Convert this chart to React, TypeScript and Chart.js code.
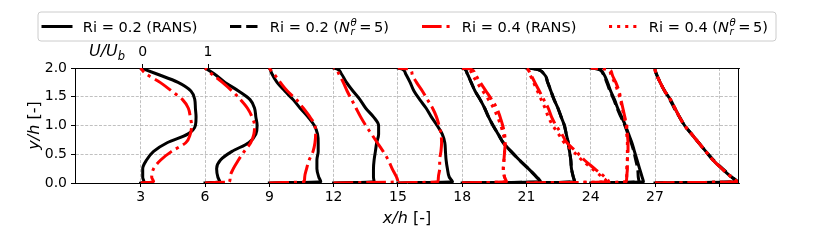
import React, { useEffect, useRef } from 'react';
import { Chart, registerables } from 'chart.js';

Chart.register(...registerables);

// ---------------- data ----------------
// wall-normal positions y/h at which the profiles are sampled
const Y_LEVELS = [0, 0.02, 0.1, 0.25, 0.4, 0.55, 0.7, 0.85, 1.0, 1.15, 1.3, 1.45, 1.6, 1.75, 1.9, 1.98, 2.0];
// streamwise stations x/h
const STATIONS = [3, 6, 9, 12, 15, 18, 21, 24, 27];
const STATIONS_N5 = [18, 21, 24, 27];
// 1 U/Ub corresponds to 3 x/h on the plot
const U_SCALE = 3;

// U/Ub profiles, one row per station, one value per Y_LEVELS entry
const U_RI02_RANS = [
  [0, 0.05, 0.03, 0.03, 0.09, 0.2, 0.41, 0.73, 0.85, 0.86, 0.85, 0.84, 0.78, 0.58, 0.24, 0.05, 0],
  [0, 0.23, 0.2, 0.18, 0.24, 0.42, 0.68, 0.79, 0.81, 0.79, 0.77, 0.7, 0.52, 0.31, 0.14, 0.03, 0],
  [0, 0.8, 0.77, 0.74, 0.74, 0.76, 0.76, 0.75, 0.7, 0.6, 0.48, 0.37, 0.24, 0.12, 0.04, 0.01, 0],
  [0, 0.63, 0.62, 0.62, 0.63, 0.65, 0.67, 0.7, 0.7, 0.62, 0.5, 0.41, 0.3, 0.2, 0.12, 0.06, 0],
  [0, 0.85, 0.8, 0.77, 0.75, 0.74, 0.73, 0.69, 0.61, 0.52, 0.44, 0.34, 0.25, 0.19, 0.12, 0.07, 0],
  [0, 1.22, 1.16, 1.03, 0.89, 0.76, 0.64, 0.56, 0.48, 0.41, 0.35, 0.28, 0.2, 0.14, 0.08, 0.04, 0],
  [0, 0.75, 0.73, 0.7, 0.69, 0.67, 0.65, 0.62, 0.59, 0.54, 0.49, 0.43, 0.38, 0.33, 0.27, 0.14, 0],
  [0, 0.82, 0.8, 0.76, 0.72, 0.68, 0.64, 0.59, 0.54, 0.48, 0.42, 0.37, 0.31, 0.26, 0.2, 0.12, 0],
  [0, 1.27, 1.19, 1.04, 0.9, 0.79, 0.68, 0.57, 0.46, 0.38, 0.31, 0.24, 0.15, 0.08, 0.02, 0.0, 0],
];
const U_RI04_RANS = [
  [0, 0.2, 0.17, 0.2, 0.31, 0.48, 0.7, 0.77, 0.79, 0.77, 0.74, 0.65, 0.48, 0.3, 0.08, 0.01, 0],
  [0, 0.38, 0.39, 0.44, 0.52, 0.61, 0.71, 0.76, 0.77, 0.73, 0.66, 0.55, 0.42, 0.27, 0.1, 0.02, 0],
  [0, 0.54, 0.55, 0.58, 0.62, 0.68, 0.71, 0.72, 0.71, 0.63, 0.53, 0.42, 0.28, 0.17, 0.07, 0.01, 0],
  [0, 1.0, 0.98, 0.91, 0.85, 0.77, 0.68, 0.59, 0.5, 0.42, 0.35, 0.28, 0.21, 0.15, 0.08, 0.04, 0],
  [0, 0.62, 0.63, 0.65, 0.65, 0.67, 0.68, 0.67, 0.64, 0.6, 0.54, 0.46, 0.38, 0.29, 0.22, 0.18, 0],
  [0, 0.69, 0.66, 0.64, 0.65, 0.66, 0.67, 0.66, 0.63, 0.59, 0.54, 0.46, 0.37, 0.28, 0.2, 0.13, 0],
  [0, 1.28, 1.22, 1.06, 0.9, 0.77, 0.63, 0.55, 0.46, 0.39, 0.34, 0.27, 0.2, 0.13, 0.06, 0.02, 0],
  [0, 0.55, 0.56, 0.57, 0.57, 0.58, 0.58, 0.57, 0.56, 0.53, 0.5, 0.47, 0.44, 0.39, 0.33, 0.27, 0],
  [0, 1.27, 1.19, 1.04, 0.9, 0.79, 0.68, 0.57, 0.46, 0.38, 0.31, 0.24, 0.15, 0.08, 0.02, 0.0, 0],
];
// N_r^theta = 5 results (stations in STATIONS_N5)
const U_RI02_N5 = [
  [0, 1.22, 1.16, 1.03, 0.89, 0.76, 0.64, 0.56, 0.48, 0.41, 0.35, 0.28, 0.2, 0.14, 0.08, 0.04, 0],
  [0, 0.75, 0.73, 0.7, 0.69, 0.67, 0.65, 0.62, 0.59, 0.54, 0.49, 0.43, 0.38, 0.33, 0.27, 0.14, 0],
  [0, 0.75, 0.74, 0.73, 0.7, 0.67, 0.63, 0.58, 0.53, 0.47, 0.41, 0.36, 0.3, 0.25, 0.19, 0.11, 0],
  [0, 1.28, 1.2, 1.05, 0.91, 0.79, 0.68, 0.57, 0.46, 0.38, 0.3, 0.23, 0.15, 0.08, 0.02, 0.0, 0],
];
const U_RI04_N5 = [
  [0, 0.69, 0.66, 0.64, 0.65, 0.66, 0.66, 0.64, 0.6, 0.55, 0.49, 0.41, 0.32, 0.23, 0.15, 0.09, 0],
  [0, 1.25, 1.18, 1.02, 0.86, 0.73, 0.59, 0.5, 0.41, 0.34, 0.29, 0.23, 0.17, 0.11, 0.05, 0.02, 0],
  [0, 0.56, 0.56, 0.56, 0.57, 0.57, 0.57, 0.56, 0.55, 0.52, 0.49, 0.46, 0.42, 0.37, 0.31, 0.24, 0],
  [0, 1.27, 1.19, 1.04, 0.9, 0.79, 0.68, 0.57, 0.46, 0.38, 0.31, 0.24, 0.15, 0.08, 0.02, 0.0, 0],
];

const X_TICKS = [3, 6, 9, 12, 15, 18, 21, 24, 27, 30];
const X_TICK_LABELS = ['3', '6', '9', '12', '15', '18', '21', '24', '27', ''];
const Y_TICKS = [0, 0.5, 1.0, 1.5, 2.0];
const TOP_TICKS = [0, 1];
const LEGEND_RI = ['0.2', '0.2', '0.4', '0.4'];
const LEGEND_KIND = ['RANS', 'N5', 'RANS', 'N5'];

// ---------------- styling ----------------
const FONT = '"DejaVu Sans", "Liberation Sans", sans-serif';
const LW = 3;
const LEG_FS = 14.6;
const DASHED = [11.3, 4.9];
const DASHDOT = [19.6, 4.9, 3.1, 4.9];
const DOTTED = [3.1, 5];

const SERIES = [
  { stations: STATIONS, values: U_RI02_RANS, color: '#000000', dash: [] as number[], order: 3, cap: 'square' },
  { stations: STATIONS_N5, values: U_RI02_N5, color: '#000000', dash: DASHED, order: 2, cap: 'butt' },
  { stations: STATIONS, values: U_RI04_RANS, color: '#ff0000', dash: DASHDOT, order: 1, cap: 'butt' },
  { stations: STATIONS_N5, values: U_RI04_N5, color: '#ff0000', dash: DOTTED, order: 0, cap: 'butt' },
];

type Part = { text: string; font: string; dy?: number; adv?: number; pre?: number };

function richWidth(ctx: CanvasRenderingContext2D, parts: Part[]) {
  let w = 0;
  for (const p of parts) {
    ctx.font = p.font;
    const mw = ctx.measureText(p.text).width;
    w += (p.pre || 0) + (p.adv !== undefined ? p.adv : mw);
  }
  return w;
}

function drawRich(ctx: CanvasRenderingContext2D, parts: Part[], x: number, y: number, align: 'left' | 'center') {
  const total = richWidth(ctx, parts);
  let cx = align === 'center' ? x - total / 2 : x;
  ctx.textBaseline = 'alphabetic';
  ctx.textAlign = 'left';
  for (const p of parts) {
    ctx.font = p.font;
    cx += p.pre || 0;
    ctx.fillText(p.text, cx, y + (p.dy || 0));
    const mw = ctx.measureText(p.text).width;
    cx += p.adv !== undefined ? p.adv : mw;
  }
}

const norm = (s: number) => `${s}px ${FONT}`;
const ital = (s: number) => `italic ${s}px ${FONT}`;

function legendParts(ctx: CanvasRenderingContext2D, i: number): Part[] {
  const head: Part = { text: `Ri = ${LEGEND_RI[i]} (`, font: norm(LEG_FS) };
  if (LEGEND_KIND[i] === 'RANS') {
    return [head, { text: 'RANS)', font: norm(LEG_FS) }];
  }
  const sfs = LEG_FS * 0.7;
  ctx.font = ital(sfs);
  const wTheta = ctx.measureText('θ').width;
  const wr = ctx.measureText('r').width;
  return [
    head,
    { text: 'N', font: ital(LEG_FS) },
    { text: 'θ', font: ital(sfs), dy: -5.8, adv: 0, pre: 0.5 },
    { text: 'r', font: ital(sfs), dy: 3, adv: Math.max(wTheta, wr) },
    { text: '=', font: norm(LEG_FS), pre: 2.5 },
    { text: '5)', font: norm(LEG_FS), pre: 2.5 },
  ];
}

const decorPlugin = {
  id: 'decor',
  afterDraw(chart: any) {
    const { ctx, chartArea: a } = chart;
    ctx.save();
    // right frame line
    ctx.strokeStyle = '#000';
    ctx.lineWidth = 1;
    ctx.setLineDash([]);
    ctx.beginPath();
    ctx.moveTo(Math.round(a.right) - 0.5, a.top);
    ctx.lineTo(Math.round(a.right) - 0.5, a.bottom);
    ctx.stroke();

    ctx.fillStyle = '#000';
    // x label
    drawRich(ctx, [
      { text: 'x/h', font: ital(16) },
      { text: ' [-]', font: norm(16) },
    ], (a.left + a.right) / 2, 223, 'center');
    // y label rotated
    ctx.save();
    ctx.translate(39, (a.top + a.bottom) / 2);
    ctx.rotate(-Math.PI / 2);
    drawRich(ctx, [
      { text: 'y/h', font: ital(16) },
      { text: ' [-]', font: norm(16) },
    ], 0, 0, 'center');
    ctx.restore();
    // top axis name
    drawRich(ctx, [
      { text: 'U/U', font: ital(16) },
      { text: 'b', font: ital(11.5), dy: 3.5 },
    ], 89, 56, 'left');

    // legend
    const lx0 = 38, ly0 = 12, lx1 = 776, ly1 = 41, r = 3;
    ctx.beginPath();
    ctx.moveTo(lx0 + r, ly0);
    ctx.lineTo(lx1 - r, ly0);
    ctx.quadraticCurveTo(lx1, ly0, lx1, ly0 + r);
    ctx.lineTo(lx1, ly1 - r);
    ctx.quadraticCurveTo(lx1, ly1, lx1 - r, ly1);
    ctx.lineTo(lx0 + r, ly1);
    ctx.quadraticCurveTo(lx0, ly1, lx0, ly1 - r);
    ctx.lineTo(lx0, ly0 + r);
    ctx.quadraticCurveTo(lx0, ly0, lx0 + r, ly0);
    ctx.closePath();
    ctx.fillStyle = 'rgba(255,255,255,0.8)';
    ctx.fill();
    ctx.strokeStyle = '#cccccc';
    ctx.lineWidth = 1;
    ctx.stroke();

    const handleX = [43, 230, 422, 609];
    const ly = 26.5;
    SERIES.forEach((s, i) => {
      ctx.save();
      ctx.strokeStyle = s.color;
      ctx.lineWidth = LW;
      ctx.lineCap = s.cap as CanvasLineCap;
      ctx.setLineDash(s.dash);
      ctx.beginPath();
      ctx.moveTo(handleX[i], ly);
      ctx.lineTo(handleX[i] + 28, ly);
      ctx.stroke();
      ctx.restore();
      ctx.fillStyle = '#000';
      drawRich(ctx, legendParts(ctx, i), handleX[i] + 28 + 11.8, ly + 5.2, 'left');
    });
    ctx.restore();
  },
};

function buildDatasets() {
  const ds: any[] = [];
  SERIES.forEach((s) => {
    s.stations.forEach((x0, i) => {
      ds.push({
        data: Y_LEVELS.map((y, k) => ({ x: x0 + U_SCALE * s.values[i][k], y })),
        borderColor: s.color,
        borderWidth: LW,
        borderDash: s.dash,
        borderCapStyle: s.cap,
        borderJoinStyle: 'round',
        pointRadius: 0,
        fill: false,
        cubicInterpolationMode: 'monotone',
        tension: 0.4,
        order: s.order,
        clip: 0,
        xAxisID: 'x',
        yAxisID: 'y',
      });
    });
  });
  return ds;
}

export default function App() {
  const ref = useRef<HTMLCanvasElement>(null);
  useEffect(() => {
    const gridCommon = {
      color: '#b0b0b0',
      lineWidth: 0.8,
      tickColor: '#000000',
      tickWidth: 1,
      tickLength: 4,
    };
    const chart = new Chart(ref.current as HTMLCanvasElement, {
      type: 'line',
      data: { datasets: buildDatasets() },
      plugins: [decorPlugin],
      options: {
        indexAxis: 'y',
        responsive: false,
        animation: false,
        devicePixelRatio: 1,
        events: [],
        layout: { padding: { left: 0, right: 91, top: 0, bottom: 0 } },
        plugins: { legend: { display: false }, tooltip: { enabled: false }, title: { display: false } },
        scales: {
          x: {
            type: 'linear',
            position: 'bottom',
            min: -0.07,
            max: 30.92,
            afterBuildTicks: (s: any) => { s.ticks = X_TICKS.map((v) => ({ value: v })); },
            afterFit: (s: any) => { s.height = 57; },
            ticks: {
              autoSkip: false,
              maxRotation: 0,
              padding: 2,
              color: '#000',
              font: { family: FONT, size: 14 },
              callback: (v: any) => { const i = X_TICKS.indexOf(Number(v)); return i >= 0 ? X_TICK_LABELS[i] : ''; },
            },
            grid: { ...gridCommon },
            border: { display: true, color: '#000', width: 1, dash: [3, 1.6] },
          },
          xTop: {
            type: 'linear',
            axis: 'x',
            position: 'top',
            min: -1.037,
            max: 9.13,
            afterBuildTicks: (s: any) => { s.ticks = TOP_TICKS.map((v) => ({ value: v })); },
            afterFit: (s: any) => { s.height = 68; },
            ticks: {
              autoSkip: false,
              maxRotation: 0,
              padding: 3,
              color: '#000',
              font: { family: FONT, size: 14 },
              callback: (v: any) => String(v),
            },
            grid: { ...gridCommon, drawOnChartArea: false },
            border: { display: true, color: '#000', width: 1 },
          },
          y: {
            type: 'linear',
            position: 'left',
            min: 0,
            max: 2,
            afterBuildTicks: (s: any) => { s.ticks = Y_TICKS.map((v) => ({ value: v })); },
            afterFit: (s: any) => { s.width = 75; },
            ticks: {
              autoSkip: false,
              padding: 4,
              color: '#000',
              font: { family: FONT, size: 14 },
              callback: (v: any) => Number(v).toFixed(1),
            },
            grid: { ...gridCommon },
            border: { display: true, color: '#000', width: 1, dash: [3, 1.6] },
          },
        },
      } as any,
    });
    return () => chart.destroy();
  }, []);
  return (
    <div style={{ position: 'absolute', left: 0, top: 0, width: 830, height: 240, background: '#ffffff' }}>
      <canvas ref={ref} width={830} height={240} style={{ display: 'block', width: 830, height: 240 }} />
    </div>
  );
}
